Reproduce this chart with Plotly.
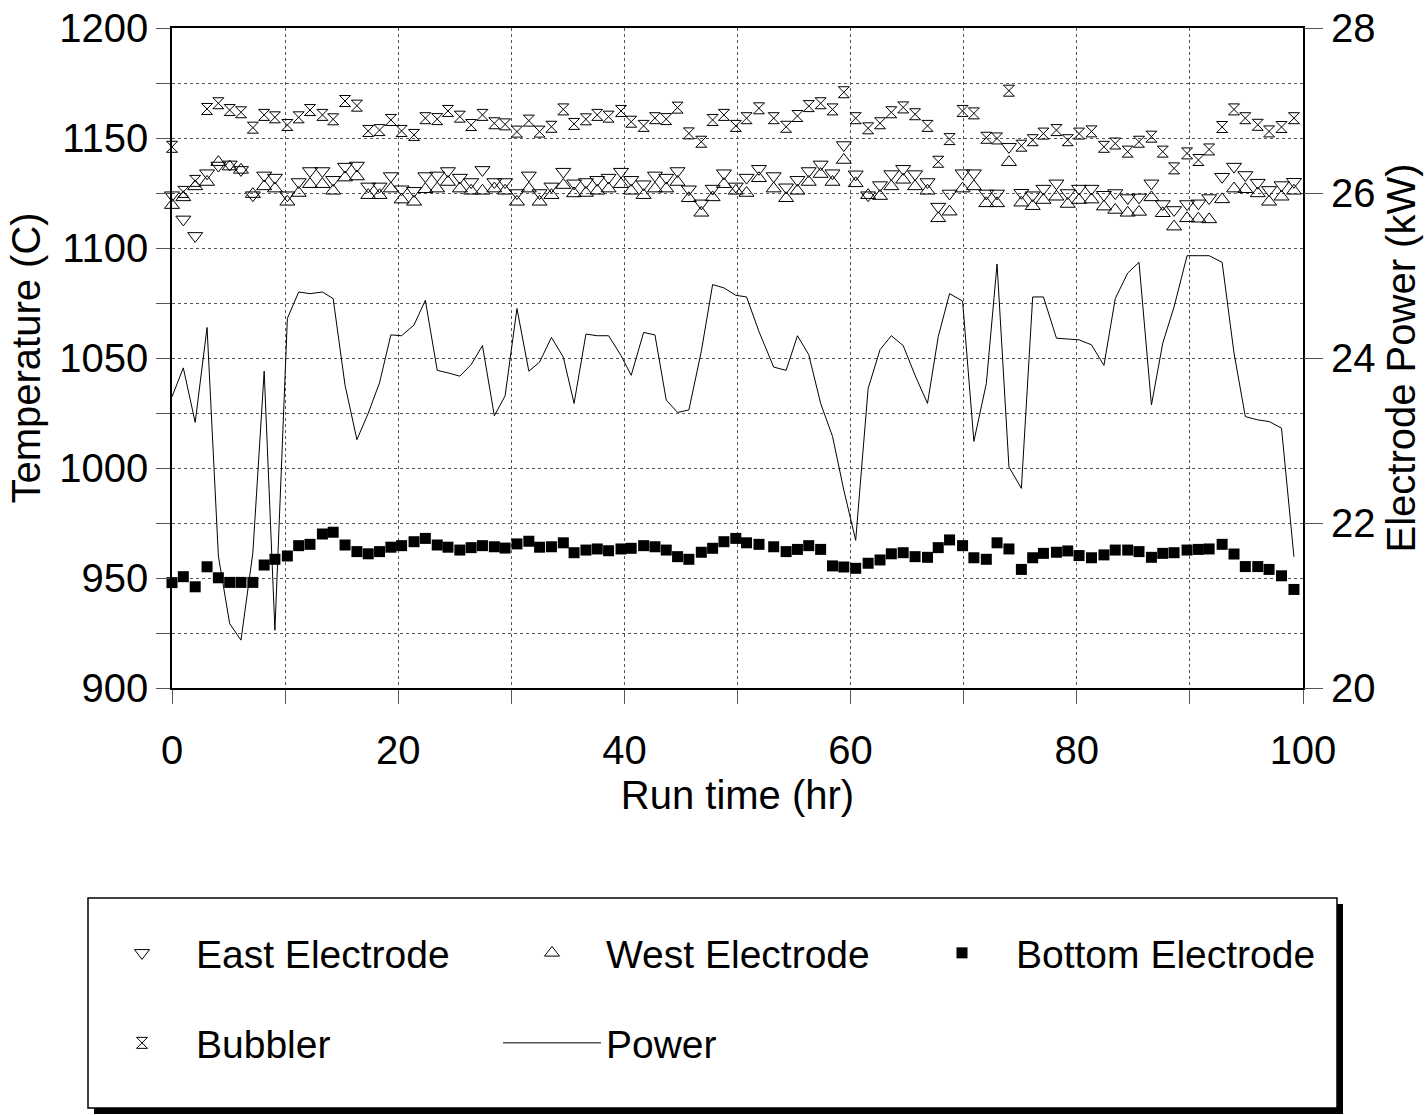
import plotly.graph_objects as go

# Sample times (hr) shared by all logged channels
run_time = [0.0, 1.0, 2.05, 3.1, 4.1, 5.1, 6.1, 7.15, 8.15, 9.1,
            10.2, 11.2, 12.2, 13.3, 14.25, 15.3, 16.35, 17.35, 18.35, 19.35,
            20.3, 21.4, 22.4, 23.45, 24.4, 25.45, 26.45, 27.45, 28.5, 29.45,
            30.5, 31.55, 32.5, 33.55, 34.6, 35.55, 36.6, 37.6, 38.6, 39.7,
            40.6, 41.7, 42.7, 43.7, 44.7, 45.7, 46.8, 47.8, 48.8, 49.85,
            50.8, 51.9, 53.2, 54.3, 55.3, 56.3, 57.35, 58.4, 59.4, 60.45,
            61.55, 62.6, 63.6, 64.65, 65.7, 66.8, 67.75, 68.75, 69.9, 70.9,
            72.0, 72.95, 74.0, 75.1, 76.1, 77.05, 78.2, 79.2, 80.2, 81.3,
            82.4, 83.4, 84.5, 85.5, 86.6, 87.6, 88.6, 89.75, 90.75, 91.7,
            92.85, 93.9, 94.9, 96.0, 97.0, 98.1, 99.2]

# Temperatures (C)
east_electrode = [1124, 1113, 1105.5, 1134, 1137.5, 1138, 1135.5, 1124, 1133, 1132,
                  1124, 1130, 1135, 1135, 1131, 1137, 1137.5, 1128, 1128, 1132.7,
                  1126.7, 1126, 1132.7, 1133, 1135, 1132, 1130, 1135.5, 1130, 1130,
                  1125, 1133, 1125, 1128, 1134.7, 1129.4, 1130, 1131, 1132, 1134.7,
                  1131, 1129, 1133, 1132, 1135, 1126.7, 1120.3, 1127, 1134, 1128,
                  1132, 1136, 1132.7, 1127.6, 1131, 1135, 1138, 1134, 1146.8, 1133.5,
                  1124, 1128.6, 1133.6, 1136, 1133.6, 1130, 1118.8, 1124.8, 1134, 1134,
                  1124.8, 1124.8, 1146, 1125.1, 1124, 1127, 1129.4, 1125, 1127, 1127,
                  1124.2, 1125, 1122.7, 1123, 1129.4, 1120, 1117.3, 1120, 1120.3, 1122.7,
                  1132.4, 1137, 1133.2, 1129.7, 1126.4, 1128.6, 1130.1]

west_electrode = [1119.5, 1123, 1128, 1130, 1139, 1137, 1135.5, 1124.5, 1128, 1127,
                  1121, 1125, 1129, 1129, 1126, 1132, 1132.5, 1124, 1124, 1127,
                  1122, 1121, 1126.7, 1127, 1130, 1127, 1126, 1126, 1127, 1126,
                  1121, 1127, 1121, 1124, 1128.6, 1124.8, 1125, 1126, 1127, 1129,
                  1126, 1124, 1127, 1127, 1130, 1122.6, 1116, 1123, 1129, 1126,
                  1125, 1131.7, 1127, 1122.6, 1126, 1130, 1133.6, 1130, 1140, 1129.4,
                  1124, 1123.6, 1128, 1131, 1128, 1126, 1113.5, 1116.5, 1127, 1128,
                  1120.3, 1120.3, 1139, 1120.6, 1119, 1121.8, 1123.3, 1120, 1121.8, 1122,
                  1118.8, 1117.3, 1116, 1116.4, 1123, 1115.8, 1109.7, 1113.5, 1113.3, 1113,
                  1122.1, 1127, 1126.7, 1124.8, 1121, 1123.3, 1126]

bottom_electrode = [947.9, 950.6, 946, 955.1, 950.1, 948, 948, 948, 955.9, 958.5,
                    960, 964.7, 965.3, 970, 970.8, 965, 962, 961, 962, 964,
                    964.7, 966.5, 968, 965, 964, 962.7, 963.8, 964.7, 964.2, 963.6,
                    965.5, 966.7, 964, 964.2, 966, 961.5, 962.7, 963.2, 962.4, 963.2,
                    963.5, 964.7, 964.2, 962.7, 959.7, 958.5, 961.7, 963.5, 966.5, 968,
                    966, 965.3, 964.2, 962, 963, 964.7, 963, 955.5, 955, 954.4,
                    956.7, 958.2, 961, 961.5, 959.7, 959.4, 963.8, 967.3, 964.7, 959.2,
                    958.5, 966, 963.2, 953.9, 959.2, 961.2, 961.7, 962.3, 960.2, 959.2,
                    960.5, 962.7, 962.7, 962, 959.4, 961.2, 961.5, 962.7, 963, 963.2,
                    965.3, 960.9, 955.2, 955.2, 953.9, 951, 944.8]

bubbler = [1146, 1125.5, 1130.5, 1163.2, 1165.8, 1162.7, 1161.7, 1154.7, 1160.5, 1159.4,
           1155.9, 1159.4, 1162.7, 1160.5, 1158.5, 1166.8, 1164.7, 1153.2, 1153.6, 1158.2,
           1153.2, 1151.4, 1159, 1158.6, 1162.3, 1159.7, 1155.9, 1160.5, 1156.7, 1156.2,
           1152.9, 1157.9, 1152.9, 1155.1, 1163, 1156.4, 1158.5, 1160.5, 1159.7, 1162.3,
           1157.4, 1155.5, 1159, 1158.6, 1163.8, 1152.1, 1148.3, 1158.2, 1160.5, 1155.5,
           1159, 1163.5, 1159, 1155.1, 1160, 1164.5, 1165.8, 1163, 1170.8, 1159,
           1154.4, 1156.7, 1161.7, 1163.9, 1160.8, 1155.5, 1139.2, 1149.5, 1162.3, 1161.2,
           1150.1, 1149.8, 1171.5, 1146.5, 1149, 1152, 1153.6, 1149, 1152, 1153,
           1146, 1147.5, 1143.8, 1148.3, 1150.6, 1143.8, 1136.2, 1143, 1140, 1144.8,
           1155, 1163, 1159, 1156, 1153, 1155, 1159]

# Electrode power (kW)
power = [23.53, 23.88, 23.22, 24.37, 21.60, 20.78, 20.58, 21.64, 23.84, 20.70,
         24.48, 24.80, 24.78, 24.80, 24.72, 23.67, 23.01, 23.33, 23.70, 24.28,
         24.27, 24.40, 24.70, 23.85, 23.82, 23.78, 23.92, 24.15, 23.30, 23.54,
         24.60, 23.84, 23.95, 24.25, 24.01, 23.45, 24.29, 24.27, 24.27, 24.03,
         23.79, 24.31, 24.28, 23.49, 23.34, 23.37, 24.08, 24.89, 24.85, 24.76,
         24.74, 24.32, 23.89, 23.85, 24.27, 24.04, 23.45, 23.05, 22.40, 21.79,
         23.63, 24.10, 24.27, 24.15, 23.79, 23.45, 24.26, 24.78, 24.69, 22.99,
         23.69, 25.14, 22.68, 22.42, 24.74, 24.74, 24.24, 24.23, 24.22, 24.16,
         23.91, 24.72, 25.03, 25.16, 23.43, 24.18, 24.62, 25.24, 25.24, 25.24,
         25.16, 24.06, 23.29, 23.25, 23.23, 23.15, 21.59]

FONT = "Liberation Sans, Arial, Helvetica, sans-serif"
INK = "black"
GRID = "#555555"

fig = go.Figure()

fig.add_trace(go.Scatter(
    x=run_time, y=east_electrode, name="East Electrode", mode="markers",
    marker=dict(symbol="triangle-down-open", size=13, color=INK,
                line=dict(width=1, color=INK)),
    legend="legend", cliponaxis=False))

fig.add_trace(go.Scatter(
    x=run_time, y=west_electrode, name="West Electrode", mode="markers",
    marker=dict(symbol="triangle-up-open", size=13, color=INK,
                line=dict(width=1, color=INK)),
    legend="legend", cliponaxis=False))

fig.add_trace(go.Scatter(
    x=run_time, y=bottom_electrode, name="Bottom Electrode", mode="markers",
    marker=dict(symbol="square", size=11, color=INK, line=dict(width=0)),
    legend="legend", cliponaxis=False))

fig.add_trace(go.Scatter(
    x=run_time, y=bubbler, name="Bubbler", mode="markers",
    marker=dict(symbol="hourglass-open", size=11, color=INK,
                line=dict(width=1, color=INK)),
    legend="legend2", cliponaxis=False))

fig.add_trace(go.Scatter(
    x=run_time, y=power, name="Power", mode="lines", yaxis="y2",
    line=dict(color=INK, width=1), legend="legend2", cliponaxis=False))

axis_common = dict(
    showline=True, linecolor=INK, linewidth=1.5, mirror=True,
    zeroline=False, ticks="outside", ticklen=14, tickcolor=GRID, tickwidth=1,
    showgrid=True, gridcolor=GRID, gridwidth=1, griddash="dot",
    tickfont=dict(size=40, family=FONT, color=INK),
)

# Legend frame with a drop shadow, in paper coordinates
L, R, T, B = 88, 1337, 898, 1108
plot_l, plot_w, plot_b, plot_h = 172, 1131, 688, 660


def px(xp):
    return (xp - plot_l) / plot_w


def py(yp):
    return (plot_b - yp) / plot_h


shapes = [
    dict(type="rect", xref="paper", yref="paper",
         x0=px(L + 6), x1=px(R + 6), y0=py(T + 6), y1=py(B + 6),
         fillcolor=INK, line=dict(width=0), layer="above"),
    dict(type="rect", xref="paper", yref="paper",
         x0=px(L), x1=px(R), y0=py(T), y1=py(B),
         fillcolor="white", line=dict(color=INK, width=1.5), layer="above"),
]

legend_common = dict(
    orientation="h", xanchor="left", yanchor="top",
    itemwidth=98, entrywidth=297, entrywidthmode="pixels",
    font=dict(size=39, family=FONT, color=INK),
    bgcolor="rgba(0,0,0,0)", borderwidth=0, traceorder="normal",
)

fig.update_layout(
    width=1428, height=1115,
    margin=dict(l=172, r=125, t=28, b=427, autoexpand=False),
    paper_bgcolor="white", plot_bgcolor="white",
    font=dict(family=FONT, size=40, color=INK),
    xaxis=dict(
        range=[0, 100], tick0=0, dtick=20, ticklabelstandoff=12,
        minor=dict(dtick=10, showgrid=True, gridcolor=GRID, griddash="dot",
                   ticks="outside", ticklen=14, tickcolor=GRID),
        title=dict(text="Run time (hr)", font=dict(size=40, family=FONT),
                   standoff=10),
        **axis_common),
    yaxis=dict(
        range=[900, 1200], tick0=900, dtick=50, ticklabelstandoff=0,
        minor=dict(dtick=25, showgrid=True, gridcolor=GRID, griddash="dot",
                   ticks="outside", ticklen=14, tickcolor=GRID),
        title=dict(text="Temperature (C)", font=dict(size=40, family=FONT),
                   standoff=6),
        **axis_common),
    yaxis2=dict(
        range=[20, 28], tick0=20, dtick=2, overlaying="y", side="right",
        showline=False, zeroline=False, showgrid=False,
        ticks="outside", ticklen=19, tickcolor=GRID, ticklabelstandoff=0,
        tickfont=dict(size=40, family=FONT, color=INK),
        title=dict(text="Electrode Power (kW)", font=dict(size=40, family=FONT),
                   standoff=12),
    ),
    legend=dict(x=px(L), y=py(921), **legend_common),
    legend2=dict(x=px(L), y=py(1011), **legend_common),
    shapes=shapes,
    showlegend=True,
)

fig.write_html("out.html")
